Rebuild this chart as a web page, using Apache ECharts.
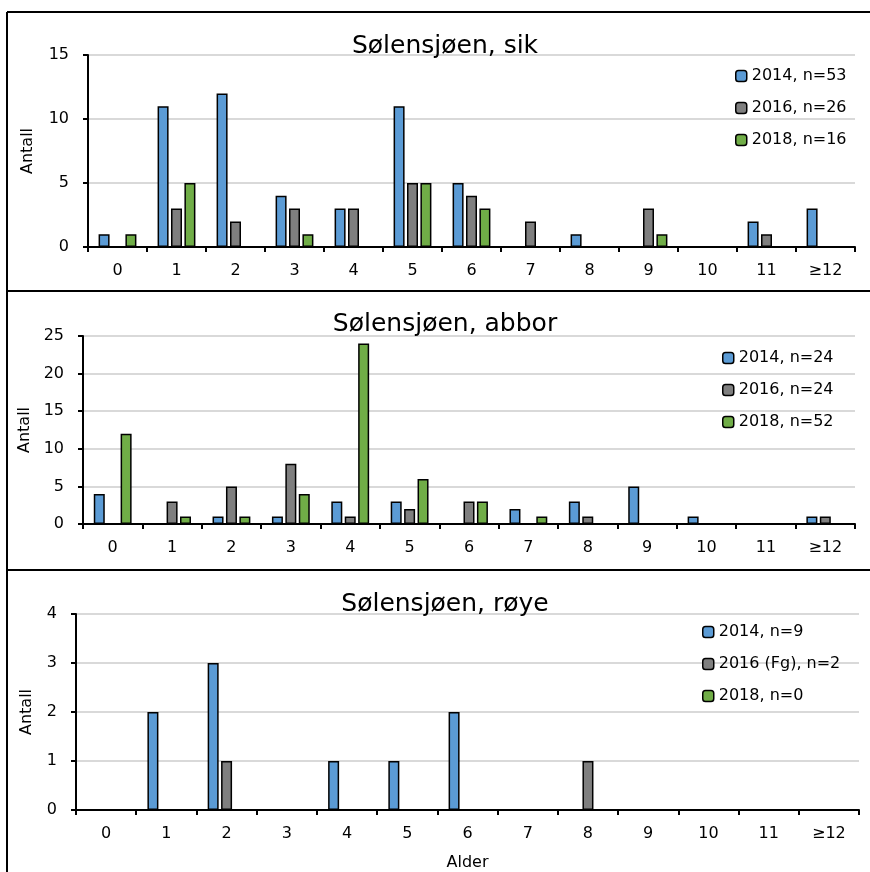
<!DOCTYPE html>
<html>
<head>
<meta charset="utf-8">
<script src="https://cdn.jsdelivr.net/npm/echarts@6/dist/echarts.min.js"></script>
<style>
  html, body { margin: 0; padding: 0; background: #ffffff; }
  #chart { width: 870px; height: 872px; }
</style>
</head>
<body>
<div id="chart"></div>
<script>
// Age classes (Alder) shared by all three panels
const ages = ['0', '1', '2', '3', '4', '5', '6', '7', '8', '9', '10', '11', '≥12'];

// Sik (whitefish)
const sikNames = ['2014, n=53', '2016, n=26', '2018, n=16'];
const sik2014 = [1, 11, 12, 4, 3, 11, 5, 0, 1, 0, 0, 2, 3];
const sik2016 = [0, 3, 2, 3, 3, 5, 4, 2, 0, 3, 0, 1, 0];
const sik2018 = [1, 5, 0, 1, 0, 5, 3, 0, 0, 1, 0, 0, 0];

// Abbor (perch)
const abborNames = ['2014, n=24', '2016, n=24', '2018, n=52'];
const abbor2014 = [4, 0, 1, 1, 3, 3, 0, 2, 3, 5, 1, 0, 1];
const abbor2016 = [0, 3, 5, 8, 1, 2, 3, 0, 1, 0, 0, 0, 1];
const abbor2018 = [12, 1, 1, 4, 24, 6, 3, 1, 0, 0, 0, 0, 0];

// Røye (char)
const royeNames = ['2014, n=9', '2016 (Fg), n=2', '2018, n=0'];
const roye2014 = [0, 2, 3, 0, 1, 1, 2, 0, 0, 0, 0, 0, 0];
const roye2016 = [0, 0, 1, 0, 0, 0, 0, 0, 1, 0, 0, 0, 0];
const roye2018 = [0, 0, 0, 0, 0, 0, 0, 0, 0, 0, 0, 0, 0];

const titles = ['Sølensjøen, sik', 'Sølensjøen, abbor', 'Sølensjøen, røye'];
const yMax = [15, 25, 4];
const yStep = [5, 5, 1];

const colors = ['#5b9bd5', '#7f7f7f', '#70ad47'];
const FONT = 'DejaVu Sans';

const panels = [
  { names: sikNames, data: [sik2014, sik2016, sik2018],
    grid: { left: 88, right: 15, top: 55, height: 192 },
    titleTop: 29, legend: { left: 730, top: 63 }, nameGap: 52 },
  { names: abborNames, data: [abbor2014, abbor2016, abbor2018],
    grid: { left: 83, right: 15, top: 336, height: 188 },
    titleTop: 307, legend: { left: 717, top: 345 }, nameGap: 48 },
  { names: royeNames, data: [roye2014, roye2016, roye2018],
    grid: { left: 76, right: 11, top: 614, height: 196 },
    titleTop: 587, legend: { left: 697, top: 619 }, nameGap: 41 }
];

const option = {
  backgroundColor: '#ffffff',
  animation: false,
  textStyle: { fontFamily: FONT },
  title: [], legend: [], grid: [], xAxis: [], yAxis: [], series: [],
  graphic: []
};

panels.forEach((p, i) => {
  option.grid.push(Object.assign({ containLabel: false }, p.grid));
  option.title.push({
    text: titles[i], left: 440, top: p.titleTop, textAlign: 'center',
    textStyle: { fontFamily: FONT, fontSize: 25, fontWeight: 'normal', color: '#000' }
  });
  option.legend.push({
    data: p.names, orient: 'vertical', left: p.legend.left, top: p.legend.top,
    itemWidth: 11, itemHeight: 11, itemGap: 16, selectedMode: false,
    textStyle: { fontFamily: FONT, fontSize: 16, color: '#000' },
    itemStyle: { borderColor: '#000', borderWidth: 1.5 }
  });
  option.xAxis.push({
    type: 'category', gridIndex: i, data: ages, boundaryGap: true,
    axisLine: { lineStyle: { color: '#000', width: 2 } },
    axisTick: { show: true, length: 5, lineStyle: { color: '#000', width: 2 } },
    axisLabel: { color: '#000', fontSize: 16, fontFamily: FONT, margin: 16, interval: 0 },
    name: i === 2 ? 'Alder' : '', nameLocation: 'middle', nameGap: 45,
    nameTextStyle: { color: '#000', fontSize: 16, fontFamily: FONT }
  });
  option.yAxis.push({
    type: 'value', gridIndex: i, min: 0, max: yMax[i], interval: yStep[i],
    axisLine: { show: true, lineStyle: { color: '#000', width: 2 } },
    axisTick: { show: true, length: 5, lineStyle: { color: '#000', width: 2 } },
    splitLine: { lineStyle: { color: '#d9d9d9', width: 2 } },
    axisLabel: { color: '#000', fontSize: 16, fontFamily: FONT, margin: 19 },
    name: 'Antall', nameLocation: 'middle', nameRotate: 90, nameGap: p.nameGap,
    nameTextStyle: { color: '#000', fontSize: 16, fontFamily: FONT }
  });
  p.data.forEach((vals, s) => {
    option.series.push({
      type: 'bar', name: p.names[s], xAxisIndex: i, yAxisIndex: i,
      data: vals.map(v => (v === 0 ? '-' : v)),
      barWidth: 11, barGap: '22%',
      itemStyle: { color: colors[s], borderColor: '#000', borderWidth: 1.5 }
    });
  });
});

// Panel frames
const frame = { stroke: '#000', lineWidth: 2 };
option.graphic = [
  { type: 'line', shape: { x1: 7, y1: 12, x2: 7, y2: 872 }, style: frame, silent: true },
  { type: 'line', shape: { x1: 7, y1: 12, x2: 870, y2: 12 }, style: frame, silent: true },
  { type: 'line', shape: { x1: 7, y1: 291, x2: 870, y2: 291 }, style: frame, silent: true },
  { type: 'line', shape: { x1: 7, y1: 570, x2: 870, y2: 570 }, style: frame, silent: true }
];

const chart = echarts.init(document.getElementById('chart'), null, { renderer: 'canvas' });
chart.setOption(option);
</script>
</body>
</html>
